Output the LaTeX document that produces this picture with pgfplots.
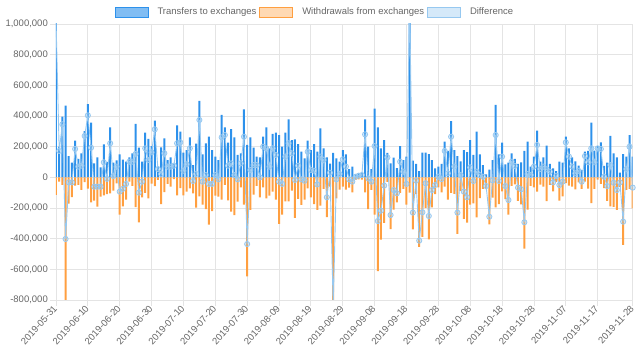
\documentclass[border=0pt]{standalone}
\usepackage{pgfplots}
\pgfplotsset{compat=1.18}
\usepackage{pgfplotstable}
\usepackage{fontspec}
\setmainfont{Liberation Sans}
\definecolor{tblue}{RGB}{45,145,235}
\definecolor{torange}{RGB}{255,159,64}
\definecolor{dline}{RGB}{150,200,240}
\definecolor{gridc}{RGB}{228,228,228}
\definecolor{txt}{RGB}{102,102,102}

\pgfplotstableread{
d T W D
0 1150000 -115000 1035000
1 200000 -28000 172000
2 396000 -50000 346000
3 467000 -869000 -402000
4 139000 -172000 -33000
5 96000 -129000 -33000
6 239000 -54000 185000
7 120000 -50000 70000
8 157000 -81000 76000
9 302000 -32000 270000
10 478000 -74000 404000
11 357000 -164000 193000
12 91000 -152000 -61000
13 130000 -191000 -61000
14 65000 -126000 -61000
15 215000 -117000 98000
16 100000 -110000 -10000
17 326000 -104000 222000
18 96000 -87000 9000
19 110000 -40000 70000
20 150000 -243000 -93000
21 115000 -190000 -75000
22 102000 -145000 -43000
23 130000 -28000 102000
24 157000 -55000 102000
25 348000 -195000 153000
26 193000 -293000 -100000
27 102000 -130000 -28000
28 291000 -102000 189000
29 250000 -137000 113000
30 204000 -41000 163000
31 370000 -57000 313000
32 70000 -16000 54000
33 196000 -174000 22000
34 254000 -97000 157000
35 113000 -43000 70000
36 130000 -60000 70000
37 87000 -11000 76000
38 339000 -117000 222000
39 298000 -70000 228000
40 161000 -118000 43000
41 178000 -93000 85000
42 261000 -72000 189000
43 80000 -104000 -24000
44 220000 -198000 22000
45 498000 -124000 374000
46 150000 -178000 -28000
47 222000 -207000 15000
48 265000 -308000 -43000
49 178000 -221000 -43000
50 135000 -120000 15000
51 113000 -126000 -13000
52 407000 -146000 261000
53 326000 -50000 276000
54 226000 -150000 76000
55 315000 -224000 91000
56 261000 -246000 15000
57 146000 -159000 -13000
58 157000 -66000 91000
59 443000 -178000 265000
60 211000 -646000 -435000
61 261000 -213000 48000
62 193000 -113000 80000
63 135000 -55000 80000
64 130000 -130000 0
65 265000 -65000 200000
66 326000 -137000 189000
67 189000 -119000 70000
68 283000 -94000 189000
69 291000 -145000 146000
70 276000 -304000 -28000
71 200000 -243000 -43000
72 291000 -156000 135000
73 378000 -156000 222000
74 243000 -86000 157000
75 248000 -265000 -17000
76 217000 -141000 76000
77 167000 -180000 -13000
78 124000 -146000 -22000
79 239000 -72000 167000
80 178000 -130000 48000
81 217000 -174000 43000
82 167000 -213000 -46000
83 320000 -185000 135000
84 189000 -76000 113000
85 130000 -260000 -130000
86 90000 -60000 30000
87 160000 -1000000 -840000
88 124000 -137000 -13000
89 102000 -80000 22000
90 178000 -61000 117000
91 150000 -80000 70000
92 54000 -67000 -13000
93 70000 -98000 -28000
94 20000 -16000 4000
95 25000 -14000 11000
96 30000 -15000 15000
97 378000 -98000 280000
98 200000 -207000 -7000
99 54000 -82000 -28000
100 448000 -244000 204000
101 326000 -611000 -285000
102 189000 -406000 -217000
103 243000 -297000 -54000
104 160000 -30000 130000
105 91000 -337000 -246000
106 128000 -211000 -83000
107 60000 -164000 -104000
108 204000 -102000 102000
109 113000 -76000 37000
110 135000 -178000 -43000
111 1200000 -100000 1100000
112 109000 -339000 -230000
113 87000 -109000 -22000
114 41000 -454000 -413000
115 161000 -389000 -228000
116 161000 -200000 -39000
117 152000 -404000 -252000
118 113000 -196000 -83000
119 59000 -109000 -50000
120 70000 -66000 4000
121 87000 -98000 -11000
122 233000 -61000 172000
123 172000 -146000 26000
124 367000 -102000 265000
125 178000 -108000 70000
126 139000 -369000 -230000
127 104000 -89000 15000
128 178000 -271000 -93000
129 165000 -295000 -130000
130 243000 -178000 65000
131 146000 -170000 -24000
132 298000 -261000 37000
133 150000 -135000 15000
134 80000 -76000 4000
135 20000 -77000 -57000
136 50000 -307000 -257000
137 113000 -133000 -20000
138 472000 -196000 276000
139 150000 -174000 -24000
140 226000 -91000 135000
141 85000 -142000 -57000
142 96000 -244000 -148000
143 157000 -55000 102000
144 120000 -46000 74000
145 87000 -154000 -67000
146 98000 -176000 -78000
147 172000 -465000 -293000
148 233000 -211000 22000
149 70000 -55000 15000
150 135000 -65000 70000
151 304000 -93000 211000
152 102000 -48000 54000
153 130000 -60000 70000
154 207000 -155000 52000
155 87000 -50000 37000
156 59000 -92000 -33000
157 40000 -30000 10000
158 102000 -152000 -50000
159 96000 -124000 -28000
160 265000 -37000 228000
161 189000 -54000 135000
162 130000 -60000 70000
163 104000 -78000 26000
164 76000 -33000 43000
165 48000 -76000 -28000
166 167000 -28000 139000
167 172000 -74000 98000
168 357000 -168000 189000
169 174000 -76000 98000
170 204000 -15000 189000
171 228000 -43000 185000
172 74000 -70000 4000
173 96000 -153000 -57000
174 270000 -190000 80000
175 157000 -192000 -35000
176 130000 -213000 -83000
177 30000 -63000 -33000
178 152000 -441000 -289000
179 135000 -81000 54000
180 276000 -76000 200000
181 135000 -202000 -67000
}\data

\begin{document}
\begin{tikzpicture}
\useasboundingbox (-56pt,-61pt) rectangle (584pt,300pt);
\begin{axis}[
  scale only axis, width=576.7pt, height=276pt,
  xmin=0, xmax=181, ymin=-800000, ymax=1000000,
  scaled y ticks=false, scaled x ticks=false,
  ytick={-800000,-600000,-400000,-200000,0,200000,400000,600000,800000,1000000},
  yticklabels={{-800,000},{-600,000},{-400,000},{-200,000},{0},{200,000},{400,000},{600,000},{800,000},{1,000,000}},
  xtick={0,10,20,30,40,50,60,70,80,90,100,110,120,130,140,150,160,170,181},
  xticklabels={2019-05-31,2019-06-10,2019-06-20,2019-06-30,2019-07-10,2019-07-20,2019-07-30,2019-08-09,2019-08-19,2019-08-29,2019-09-08,2019-09-18,2019-09-28,2019-10-08,2019-10-18,2019-10-28,2019-11-07,2019-11-17,2019-11-28},
  xtick pos=left, ytick pos=left,
  tick align=outside, major tick length=6pt,
  tick style={gridc, line width=0.8pt},
  grid=major, grid style={gridc, line width=0.8pt},
  axis line style={gridc, line width=0.8pt},
  ticklabel style={font=\fontsize{9.5}{11}\selectfont, text=txt},
  yticklabel style={inner xsep=2pt},
  xticklabel style={rotate=48, anchor=east, inner sep=1pt},
  legend style={at={(0.449,1.0435)}, anchor=center, draw=none, fill=none,
    font=\fontsize{9.5}{11}\selectfont, text=txt, inner sep=0pt,
    /tikz/every even column/.append style={column sep=1pt},
    /tikz/every odd column/.append style={column sep=7pt}},
  legend columns=-1, legend cell align=left,
]
\addplot[ybar, bar width=2pt, bar shift=0pt, fill=tblue, draw=none,
  legend image code/.code={\draw[draw=tblue, fill=tblue!60, line width=0.8pt] (0pt,-5pt) rectangle (33pt,5pt);}]
  table[x=d, y=T]{\data};
\addlegendentry{Transfers to exchanges}
\addplot[ybar, bar width=2pt, bar shift=0pt, fill=torange, draw=none,
  legend image code/.code={\draw[draw=torange, fill=torange!40, line width=0.8pt] (0pt,-5pt) rectangle (33pt,5pt);}]
  table[x=d, y=W]{\data};
\addlegendentry{Withdrawals from exchanges}
\addplot[dline, line width=0.9pt, mark=*, mark size=2.6pt,
  mark options={draw=dline, fill=dline, fill opacity=0.35, line width=0.8pt},
  legend image code/.code={\draw[draw=dline, fill=dline!40, line width=0.8pt] (0pt,-5pt) rectangle (33pt,5pt);}]
  table[x=d, y=D]{\data};
\addlegendentry{Difference}
\end{axis}
\end{tikzpicture}
\end{document}
